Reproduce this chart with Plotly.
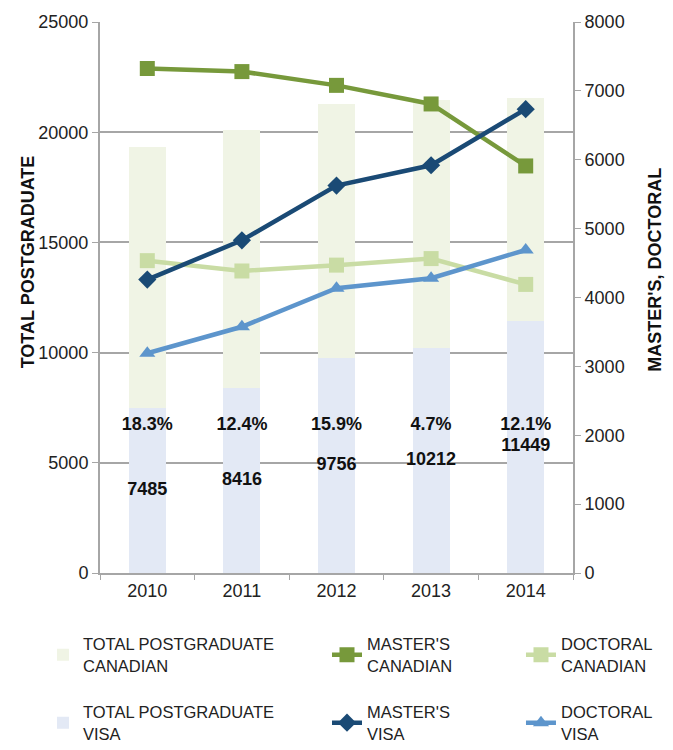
import plotly.graph_objects as go

years = ["2010", "2011", "2012", "2013", "2014"]
total_visa = [7485, 8416, 9756, 10212, 11449]
total_canadian = [11860, 11680, 11520, 11270, 10100]
visa_growth = ["18.3%", "12.4%", "15.9%", "4.7%", "12.1%"]
masters_canadian = [7325, 7280, 7080, 6810, 5910]
doctoral_canadian = [4535, 4385, 4470, 4565, 4190]
masters_visa = [4260, 4830, 5625, 5920, 6735]
doctoral_visa = [3190, 3575, 4135, 4280, 4690]

FONT = "Liberation Sans, Arial, sans-serif"
GRID = "#a6a6a6"
pct_label_y = 6700

fig = go.Figure()

fig.add_trace(go.Bar(x=years, y=total_visa, name="TOTAL POSTGRADUATE<br>VISA",
                     marker=dict(color="#e3e9f5", line=dict(width=0)), width=0.39,
                     legend="legend", legendgroup="tv", legendrank=2))
fig.add_trace(go.Bar(x=years, y=total_canadian, name="TOTAL POSTGRADUATE<br>CANADIAN",
                     marker=dict(color="#f0f4e5", line=dict(width=0)), width=0.39,
                     legend="legend", legendgroup="tc", legendrank=1))

fig.add_trace(go.Scatter(x=years, y=[v / 2 for v in total_visa], mode="text",
                         text=[str(v) for v in total_visa], showlegend=False,
                         textfont=dict(family=FONT, size=18, color="#111111", weight="bold"),
                         hoverinfo="skip"))
fig.add_trace(go.Scatter(x=years, y=[pct_label_y] * len(years), mode="text",
                         text=visa_growth, showlegend=False,
                         textfont=dict(family=FONT, size=18, color="#111111", weight="bold"),
                         hoverinfo="skip"))

line_specs = [
    (masters_canadian, "MASTER'S<br>CANADIAN", "#77993b", "square", 15, "legend2", "mc", 1),
    (doctoral_canadian, "DOCTORAL<br>CANADIAN", "#c9dca4", "square", 15, "legend3", "dc", 1),
    (masters_visa, "MASTER'S<br>VISA", "#1a4a75", "diamond", 14, "legend2", "mv", 2),
    (doctoral_visa, "DOCTORAL<br>VISA", "#5d95cc", "triangle-up", 14, "legend3", "dv", 2),
]
for vals, name, color, sym, size, leg, grp, rank in line_specs:
    fig.add_trace(go.Scatter(x=years, y=vals, name=name, yaxis="y2", mode="lines+markers",
                             line=dict(color=color, width=4.5),
                             marker=dict(symbol=sym, size=size, color=color),
                             legend=leg, legendgroup=grp, legendrank=rank))

legend_common = dict(font=dict(family=FONT, size=16.5, color="#222222"),
                     orientation="v", yanchor="top", xanchor="left",
                     xref="container", yref="container",
                     tracegroupgap=22, bgcolor="rgba(0,0,0,0)", traceorder="grouped")
legend_top = 0.166

fig.update_layout(
    width=665, height=742,
    margin=dict(l=92, r=100, t=14, b=177, autoexpand=False),
    paper_bgcolor="white", plot_bgcolor="white",
    barmode="stack",
    font=dict(family=FONT, size=18, color="#222222"),
    xaxis=dict(type="category", tickson="boundaries", ticks="outside", ticklen=5,
               tickcolor=GRID, showline=True, linecolor=GRID, linewidth=2,
               tickfont=dict(family=FONT, size=18, color="#222222"), range=[-0.5, 4.5]),
    yaxis=dict(range=[0, 25000], dtick=5000, tickformat="d", showgrid=True, gridcolor=GRID,
               gridwidth=2, showline=True, linecolor=GRID, linewidth=2, ticks="outside",
               ticklen=6, tickcolor=GRID, zeroline=False,
               tickfont=dict(family=FONT, size=18, color="#222222")),
    yaxis2=dict(range=[0, 8000], dtick=1000, tickformat="d", overlaying="y", side="right",
                showgrid=False, showline=True, linecolor=GRID, linewidth=2, ticks="outside",
                ticklen=6, tickcolor=GRID, zeroline=False,
                tickfont=dict(family=FONT, size=18, color="#222222")),
    legend=dict(x=0.0526, y=legend_top, **legend_common),
    legend2=dict(x=0.4797, y=legend_top, **legend_common),
    legend3=dict(x=0.7714, y=legend_top, **legend_common),
    showlegend=True,
    annotations=[
        dict(text="<b>TOTAL POSTGRADUATE</b>", textangle=-90, xref="paper", yref="paper",
             x=-0.152, y=0.564, xanchor="center", yanchor="middle", showarrow=False,
             font=dict(family=FONT, size=18, color="#111111")),
        dict(text="<b>MASTER'S, DOCTORAL</b>", textangle=-90, xref="paper", yref="paper",
             x=1.173, y=0.55, xanchor="center", yanchor="middle", showarrow=False,
             font=dict(family=FONT, size=18, color="#111111")),
    ],
)

fig.write_html("out.html")
